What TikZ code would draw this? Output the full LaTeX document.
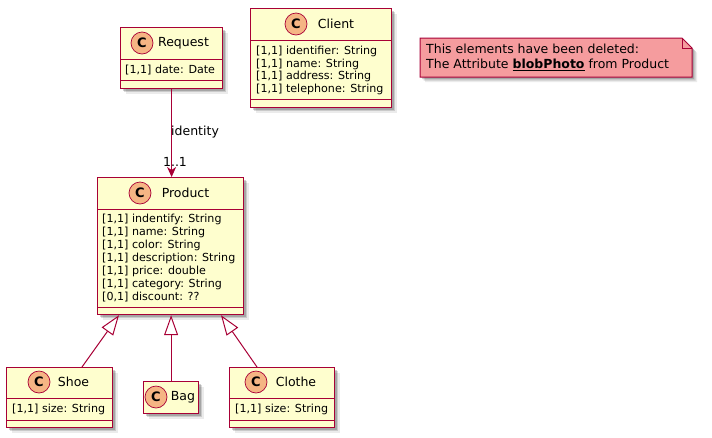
\documentclass[tikz,border=0pt]{standalone}
\usepackage{fontspec}
\setmainfont{DejaVu Sans}
\usetikzlibrary{arrows.meta,shadows,calc}
\definecolor{bord}{HTML}{A80036}
\definecolor{clsfill}{HTML}{FEFECE}
\definecolor{notefill}{HTML}{F59C9E}
\definecolor{circfill}{HTML}{F5B584}
\tikzset{
 softshadow/.style={
   drop shadow={shadow xshift=2pt, shadow yshift=-2pt, opacity=0.18, fill=black},
   drop shadow={shadow xshift=3.5pt, shadow yshift=-3.5pt, opacity=0.14, fill=black},
   drop shadow={shadow xshift=5pt, shadow yshift=-5pt, opacity=0.08, fill=black}},
 cls/.style={draw=bord, fill=clsfill, line width=1.2pt, rectangle, inner sep=0pt, anchor=north west, softshadow},
 sepline/.style={draw=bord, line width=0.9pt},
 ccirc/.style={circle, draw=bord, fill=circfill, minimum size=22pt, inner sep=0pt, line width=0.7pt,
   font=\fontsize{13}{13}\selectfont\bfseries},
 ctitle/.style={font=\fontsize{12.5}{15}\selectfont, inner sep=0pt},
 attr/.style={font=\fontsize{11.1}{13}\selectfont, inner sep=0pt, anchor=west},
 assoc/.style={draw=bord, line width=1pt, -{Stealth[length=10pt,width=9pt,inset=3pt]}},
 inh/.style={draw=bord, line width=1pt, -{Triangle[length=20pt,width=14pt,fill=white]}},
 lbl/.style={font=\fontsize{12.5}{15}\selectfont, inner sep=0pt},
 notebox/.style={draw=bord, fill=notefill, line width=1pt, softshadow},
}
\begin{document}
\begin{tikzpicture}[x=1pt,y=-1pt]
\useasboundingbox (0,0) rectangle (712,437);

% Request
\node[cls, minimum width=102, minimum height=61] (req) at (120,27) {};
\draw[sepline] (120,59) -- (222,59);
\draw[sepline] (120,80) -- (222,80);
\node[ccirc] (reqc) at (142,43) {C};
\node[ctitle] (reqt) at (183.5,43) {Request};
\node[attr] (reqa1) at (125,70) {[1,1] date: Date};

% Client
\node[cls, minimum width=141, minimum height=99] (cli) at (250,8) {};
\draw[sepline] (250,40) -- (391,40);
\draw[sepline] (250,99) -- (391,99);
\node[ccirc] (clic) at (296,24) {C};
\node[ctitle] (clit) at (336,24) {Client};
\node[attr] (clia1) at (256,51.5) {[1,1] identifier: String};
\node[attr] (clia2) at (256,64) {[1,1] name: String};
\node[attr] (clia3) at (256,76.5) {[1,1] address: String};
\node[attr] (clia4) at (256,89) {[1,1] telephone: String};

% Product
\node[cls, minimum width=146, minimum height=137] (prod) at (97,177) {};
\draw[sepline] (97,209) -- (243,209);
\draw[sepline] (97,307) -- (243,307);
\node[ccirc] (prodc) at (140,193) {C};
\node[ctitle] (prodt) at (185.5,193) {Product};
\node[attr] (proda1) at (102,219.5) {[1,1] indentify: String};
\node[attr] (proda2) at (102,232.5) {[1,1] name: String};
\node[attr] (proda3) at (102,245.5) {[1,1] color: String};
\node[attr] (proda4) at (102,258.5) {[1,1] description: String};
\node[attr] (proda5) at (102,271.5) {[1,1] price: double};
\node[attr] (proda6) at (102,284.5) {[1,1] category: String};
\node[attr] (proda7) at (102,297.5) {[0,1] discount: ??};

% Shoe
\node[cls, minimum width=106, minimum height=60] (shoe) at (6,367) {};
\draw[sepline] (6,398) -- (112,398);
\draw[sepline] (6,420) -- (112,420);
\node[ccirc] (shoec) at (39,382) {C};
\node[ctitle] (shoet) at (73.5,382) {Shoe};
\node[attr] (shoea1) at (12,409) {[1,1] size: String};

% Bag
\node[cls, minimum width=55, minimum height=32] (bag) at (143,381) {};
\node[ccirc] (bagc) at (156,397) {C};
\node[ctitle] (bagt) at (183,397) {Bag};

% Clothe
\node[cls, minimum width=105, minimum height=60] (clo) at (229,367) {};
\draw[sepline] (229,398) -- (334,398);
\draw[sepline] (229,420) -- (334,420);
\node[ccirc] (cloc) at (256,382) {C};
\node[ctitle] (clot) at (296,382) {Clothe};
\node[attr] (cloa1) at (235,409) {[1,1] size: String};

% Note
\path[notebox] (420,38) -- (682,38) -- (692,48) -- (692,77) -- (420,77) -- cycle;
\draw[bord, line width=1pt] (682,38) -- (682,48) -- (692,48);
\node[lbl, anchor=west, align=left, font=\fontsize{12.5}{15}\selectfont] (notet) at (426,57)
  {This elements have been deleted:\\The Attribute \underline{\textbf{blobPhoto}} from Product};

% Connectors
\draw[assoc] (req.south) -- (req.south |- prod.north);
\node[lbl, anchor=west] (lid) at (171,132) {identity};
\node[lbl] (lmul) at (175,162) {1..1};

\draw[inh] ($(shoe.north west)+(76,0)$) -- ($(prod.south west)+(22,0)$);
\draw[inh] (bag.north) -- (bag.north |- prod.south);
\draw[inh] ($(clo.north west)+(28,0)$) -- ($(prod.south west)+(124,0)$);
\end{tikzpicture}
\end{document}
